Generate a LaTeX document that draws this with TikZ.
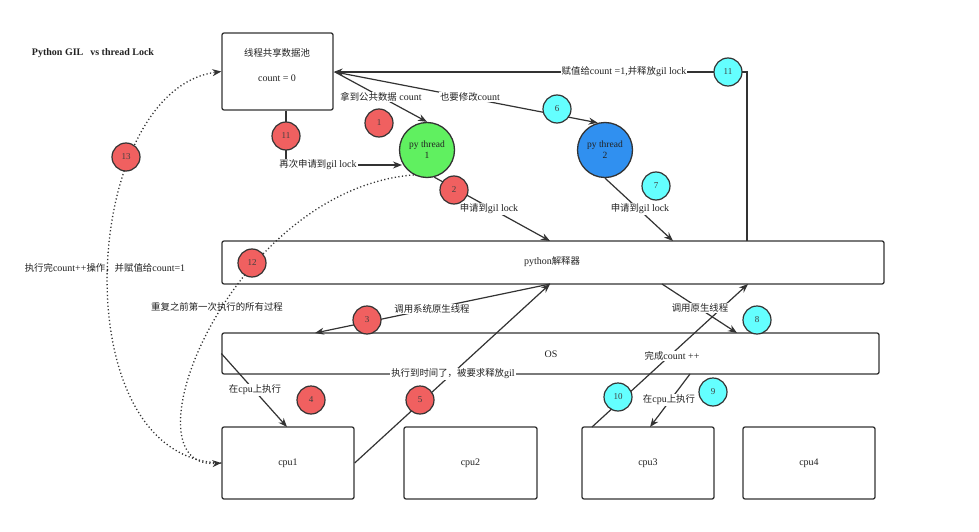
\documentclass[tikz,border=0pt]{standalone}
\usepackage{fontspec}
\setmainfont{Liberation Serif}
\newfontfamily\cjk{Noto Sans CJK SC}
\usetikzlibrary{arrows.meta,calc}
\newcommand{\zh}[1]{{\cjk\fontsize{9.4}{11}\selectfont #1}}
\definecolor{linec}{HTML}{333333}
\definecolor{textc}{HTML}{222222}
\definecolor{redc}{RGB}{240,96,96}
\definecolor{cyanc}{RGB}{100,255,255}
\definecolor{greenc}{RGB}{96,240,96}
\definecolor{bluec}{RGB}{48,144,240}
\begin{document}
\begin{tikzpicture}[x=1pt,y=-1pt,
  font=\fontsize{10}{12}\selectfont, text=textc,
  box/.style={draw=linec, line width=1.3pt, rounded corners=2pt, fill=white, inner sep=0pt},
  conn/.style={draw=linec, line width=1.2pt, -{Stealth[length=9pt,width=7pt]}},
  plainline/.style={draw=linec, line width=1.2pt},
  dotline/.style={draw=linec, line width=1.3pt, dash pattern=on 1.2pt off 2.4pt, -{Stealth[length=9pt,width=7pt]}},
  lbl/.style={fill=white, inner sep=1pt},
  nolbl/.style={inner sep=1pt},
  numred/.style={circle, draw=linec, line width=1.2pt, fill=redc, minimum size=28pt, inner sep=0pt, font=\fontsize{9}{10}\selectfont, text=black!75},
  numcyan/.style={circle, draw=linec, line width=1.2pt, fill=cyanc, minimum size=28pt, inner sep=0pt, font=\fontsize{9}{10}\selectfont, text=black!75},
  thread/.style={circle, draw=linec, line width=1.3pt, minimum size=55pt, inner sep=0pt, align=center, font=\fontsize{9.5}{11}\selectfont}
]
\useasboundingbox (0,0) rectangle (979,532);
\fill[white] (0,0) rectangle (979,532);

% title
\node (title) at (93,53) {\bfseries Python GIL\hspace{7pt}vs thread Lock};

% boxes
\node[box, minimum width=111pt, minimum height=77pt] (pool) at (277.5,71.5) {};
\node (pooltxt) at (277,53) {\zh{线程共享数据池}};
\node (poolcnt) at (277,78) {count = 0};

\node[box, minimum width=662pt, minimum height=43pt] (interp) at (553,262.5) {};
\node (interptxt) at (552,262) {python\zh{解释器}};

\node[box, minimum width=657pt, minimum height=41pt] (os) at (550.5,353.5) {};
\node (ostxt) at (551,354) {OS};

\node[box, minimum width=132pt, minimum height=72pt] (cpu1) at (288,463) {cpu1};
\node[box, minimum width=133pt, minimum height=72pt] (cpu2) at (470.5,463) {cpu2};
\node[box, minimum width=132pt, minimum height=72pt] (cpu3) at (648,463) {cpu3};
\node[box, minimum width=132pt, minimum height=72pt] (cpu4) at (809,463) {cpu4};

% threads
\node[thread, fill=greenc] (th1) at (427,150) {py thread\\1};
\node[thread, fill=bluec] (th2) at (605,150) {py thread\\2};

% coordinates on edges
\coordinate (p0) at (335,72);
\coordinate (a11) at (747,241);
\coordinate (k11) at (747,72);
\coordinate (i2) at (550,241);
\coordinate (i3) at (673,241);
\coordinate (ib1) at (550,284);
\coordinate (ib2) at (662,284);
\coordinate (ib3) at (748,284);
\coordinate (o1) at (315,333);
\coordinate (o2) at (737,333);
\coordinate (o3) at (690,374);
\coordinate (c1t) at (287,427);
\coordinate (c3t) at (650,427);
\coordinate (c3l) at (592,427);
\coordinate (r11a) at (286,165);
\coordinate (t1l) at (402,165);

% connectors
\draw[conn] (a11) -- (k11) -- (pool.east |- k11);
\draw[conn] (p0) -- (th1.north);
\draw[conn] (p0) -- (th2.105);
\draw[conn] (th1.-75) -- (i2);
\draw[conn] (th2.-90) -- (i3);
\draw[conn] (pool.south -| r11a) -- (r11a) -- (t1l);
\draw[conn] (ib1) -- (o1);
\draw[conn] (os.west) -- (c1t);
\draw[conn] (cpu1.east) -- (ib1);
\draw[conn] (ib2) -- (o2);
\draw[conn] (o3) -- (c3t);
\draw[conn] (c3l) -- (ib3);

% dotted curves
\draw[dotline] (cpu1.west) .. controls (60,460) and (80,90) .. (pool.west);
\draw[dotline] (th1.-118) .. controls (230,190) and (120,470) .. (cpu1.west);

% labels
\node[lbl] (l11) at (624,72) {\zh{赋值给}count =1,\zh{并释放}gil lock};
\node[lbl] (l1) at (381,97) {\zh{拿到公共数据} count};
\node[lbl] (l6) at (470,97) {\zh{也要修改}count};
\node[lbl] (l2) at (489,209) {\zh{申请到}gil lock};
\node[lbl] (l7) at (640,209) {\zh{申请到}gil lock};
\node[lbl] (lr11) at (318,165) {\zh{再次申请到}gil lock};
\node[lbl] (l3) at (432,309) {\zh{调用系统原生线程}};
\node[lbl] (l4) at (255,390) {\zh{在}cpu\zh{上执行}};
\node[lbl] (l5) at (453,374) {\zh{执行到时间了，被要求释放}gil};
\node[lbl] (l8) at (700,308) {\zh{调用原生线程}};
\node[lbl] (l9) at (669,400) {\zh{在}cpu\zh{上执行}};
\node[lbl] (l10) at (672,356) {\zh{完成}count ++};
\node[nolbl] (l13) at (105,268) {\zh{执行完}count++\zh{操作，并赋值给}count=1};
\node[nolbl] (l12) at (217,307) {\zh{重复之前第一次执行的所有过程}};

% numbered circles
\node[numred] (n1) at (379,123) {1};
\node[numred] (n2) at (454,190) {2};
\node[numred] (n3) at (367,320) {3};
\node[numred] (n4) at (311,400) {4};
\node[numred] (n5) at (420,400) {5};
\node[numred] (n11r) at (286,136) {11};
\node[numred] (n12) at (252,263) {12};
\node[numred] (n13) at (126,157) {13};
\node[numcyan] (n6) at (557,109) {6};
\node[numcyan] (n7) at (656,186) {7};
\node[numcyan] (n8) at (757,320) {8};
\node[numcyan] (n9) at (713,392) {9};
\node[numcyan] (n10) at (618,397) {10};
\node[numcyan] (n11c) at (728,72) {11};
\end{tikzpicture}
\end{document}
